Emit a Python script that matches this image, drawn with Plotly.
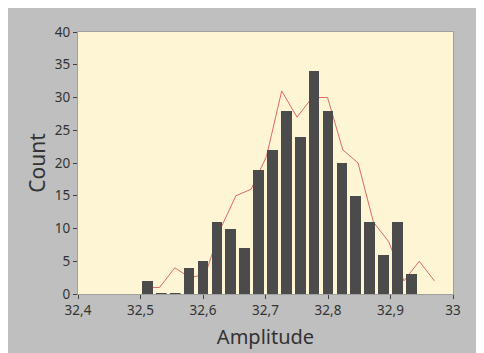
import plotly.graph_objects as go

# ---- data ----
bin_start = 32.5
bin_width = 0.02222
bar_counts = [2, 0, 0, 4, 5, 11, 10, 7, 19, 22, 28, 24, 34, 28, 20, 15, 11, 6, 11, 3]

line_start = 32.506
line_step = 0.02444
line_counts = [1, 1, 4, 2.5, 3, 10, 15, 16, 21, 31, 27, 30, 30, 22, 20, 11, 8, 2, 5, 2]

x_ticks = [32.4, 32.5, 32.6, 32.7, 32.8, 32.9, 33.0]
y_ticks = [0, 5, 10, 15, 20, 25, 30, 35, 40]

# ---- derived positions ----
bar_w = 0.017
bar_x = [bin_start + (i + 0.5) * bin_width for i in range(len(bar_counts))]
line_x = [line_start + k * line_step for k in range(len(line_counts))]

zero_x, zero_y = [], []
for cx, c in zip(bar_x, bar_counts):
    if c == 0:
        zero_x += [cx - bar_w / 2, cx + bar_w / 2, None]
        zero_y += [0, 0, None]

BAR = "#4b4b4b"
RED = "#e06a64"
TXT = "#333333"
FONT = "Noto Sans"

fig = go.Figure()
# line drawn on the base subplot (below the bars)
fig.add_trace(go.Scatter(x=line_x, y=line_counts, mode="lines",
                         line=dict(color=RED, width=1), xaxis="x", yaxis="y",
                         hoverinfo="skip", showlegend=False))
# bars on an overlaying subplot so they sit above the line
fig.add_trace(go.Bar(x=bar_x, y=bar_counts, width=bar_w,
                     marker=dict(color=BAR, line=dict(width=0)),
                     xaxis="x2", yaxis="y2", showlegend=False))
fig.add_trace(go.Scatter(x=zero_x, y=zero_y, mode="lines",
                         line=dict(color=BAR, width=2), xaxis="x2", yaxis="y2",
                         hoverinfo="skip", showlegend=False))

xr = [32.4, 33.0]
yr = [0, 40]
axis_common = dict(showgrid=False, zeroline=False, showline=True, mirror=True,
                   linecolor="#a0a0a0", linewidth=1, ticks="outside", ticklen=4,
                   tickwidth=1, tickcolor="#404040", automargin=False,
                   tickfont=dict(family=FONT, size=13.5, color=TXT))

fig.update_layout(
    width=476, height=345,
    margin=dict(l=70, r=31, t=24, b=59),
    paper_bgcolor="#bfbfbf",
    plot_bgcolor="#fdf5d3",
    separators=", ",
    bargap=0,
    xaxis=dict(range=xr, tickvals=x_ticks, **axis_common,
               title=dict(text="Amplitude", standoff=11,
                          font=dict(family=FONT, size=20, color=TXT))),
    yaxis=dict(range=yr, tickvals=y_ticks, **axis_common,
               title=dict(text="Count", standoff=3,
                          font=dict(family=FONT, size=21, color=TXT))),
    xaxis2=dict(range=xr, overlaying="x", visible=False),
    yaxis2=dict(range=yr, overlaying="y", visible=False),
)

fig.write_html("out.html")
